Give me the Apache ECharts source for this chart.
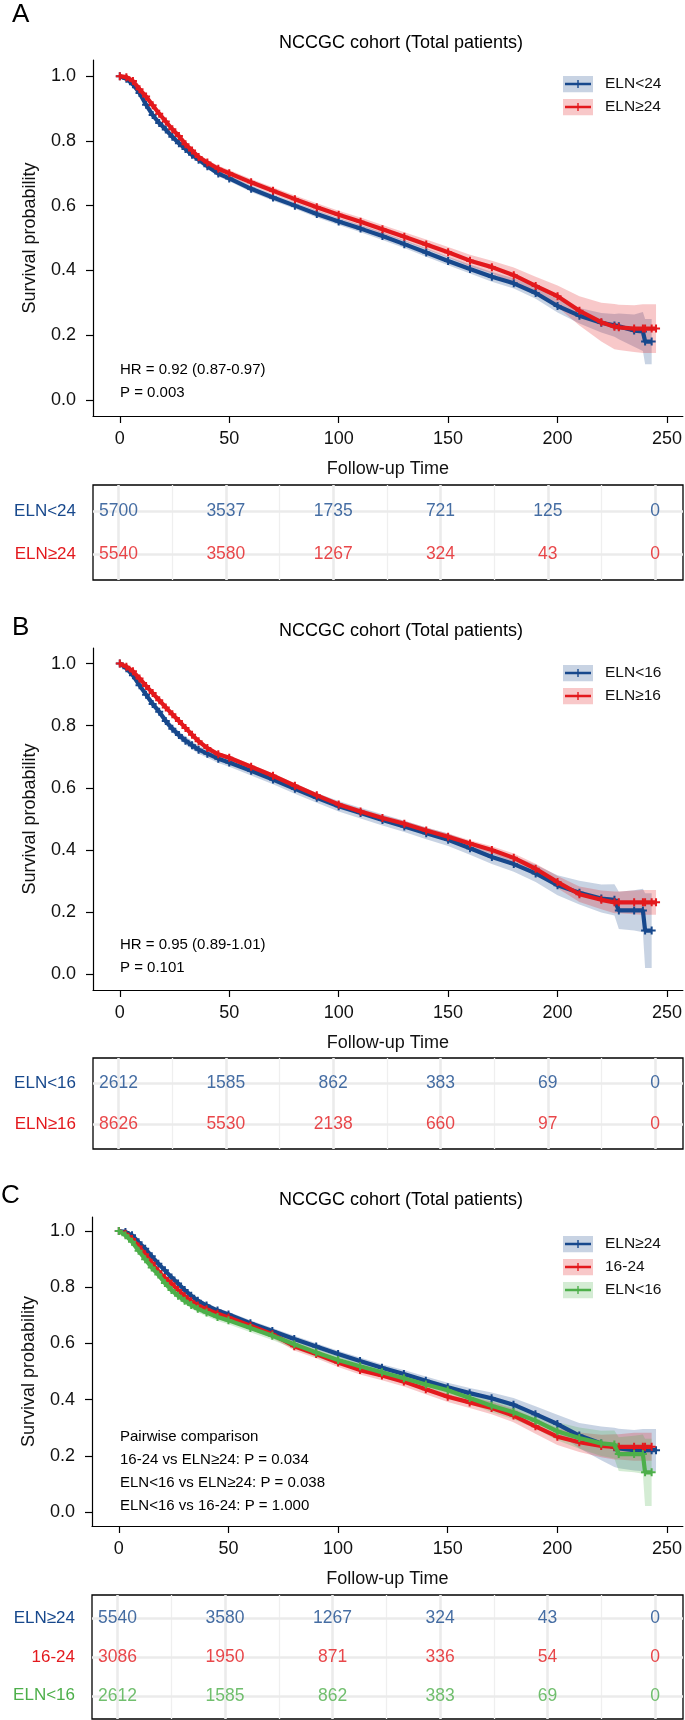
<!DOCTYPE html>
<html>
<head>
<meta charset="utf-8">
<script src="https://cdn.jsdelivr.net/npm/echarts@6/dist/echarts.min.js"></script>
<style>
html,body{margin:0;padding:0;background:#fff;}
#chart{width:685px;height:1720px;}
</style>
</head>
<body>
<div id="chart"></div>
<script>
// ---------- DATA ----------
const months = [0,3,6,9,12,15,18,21,24,27,30,33,36,40,45,50,60,70,80,90,100,110,120,130,140,150,160,170,180,190,200,210,220,226,228,235,239,240,243,245];
const xTicks = [0,50,100,150,200,250];
const xMinorTicks = [25,75,125,175,225];
const yTicks = [0,0.2,0.4,0.6,0.8,1.0];

// Panel A
const survA_lt24 = [1.0,0.992,0.975,0.948,0.912,0.88,0.855,0.835,0.813,0.793,0.775,0.757,0.742,0.722,0.699,0.684,0.652,0.625,0.60,0.574,0.551,0.529,0.506,0.481,0.455,0.429,0.404,0.38,0.36,0.33,0.29,0.26,0.238,0.23,0.227,0.214,0.211,0.18,0.18,null];
const ciA_lt24   = [0,0.004,0.005,0.006,0.007,0.007,0.007,0.008,0.008,0.008,0.008,0.008,0.009,0.009,0.009,0.009,0.01,0.01,0.01,0.011,0.011,0.011,0.012,0.012,0.013,0.013,0.014,0.015,0.016,0.018,0.02,0.024,0.03,0.035,0.04,0.05,0.06,0.07,0.07,null];
const survA_ge24 = [1.0,0.997,0.985,0.96,0.937,0.91,0.884,0.86,0.836,0.815,0.79,0.77,0.75,0.733,0.714,0.70,0.672,0.646,0.62,0.595,0.572,0.55,0.527,0.504,0.48,0.456,0.43,0.41,0.385,0.352,0.32,0.275,0.24,0.226,0.224,0.22,0.22,0.22,0.22,0.22];
const ciA_ge24   = [0,0.004,0.005,0.006,0.007,0.007,0.007,0.008,0.008,0.008,0.008,0.008,0.009,0.009,0.009,0.01,0.01,0.011,0.011,0.012,0.012,0.013,0.013,0.014,0.015,0.016,0.018,0.02,0.024,0.028,0.033,0.045,0.06,0.07,0.07,0.072,0.075,0.075,0.075,0.075];
const riskA_lt24 = [5700,3537,1735,721,125,0];
const riskA_ge24 = [5540,3580,1267,324,43,0];

// Panel B
const survB_lt16 = [1.0,0.985,0.962,0.93,0.9,0.87,0.845,0.815,0.79,0.77,0.752,0.737,0.723,0.71,0.694,0.682,0.655,0.627,0.597,0.568,0.541,0.519,0.497,0.476,0.454,0.433,0.406,0.378,0.355,0.325,0.287,0.263,0.244,0.24,0.206,0.206,0.206,0.141,0.141,null];
const ciB_lt16   = [0,0.006,0.008,0.009,0.01,0.011,0.011,0.012,0.012,0.012,0.013,0.013,0.013,0.013,0.014,0.014,0.015,0.015,0.016,0.016,0.017,0.017,0.018,0.018,0.019,0.02,0.021,0.023,0.025,0.028,0.032,0.038,0.045,0.05,0.06,0.065,0.07,0.12,0.12,null];
const survB_ge16 = [1.0,0.99,0.975,0.952,0.928,0.905,0.882,0.859,0.837,0.815,0.793,0.771,0.75,0.728,0.708,0.697,0.668,0.639,0.607,0.576,0.547,0.524,0.503,0.485,0.463,0.443,0.421,0.40,0.375,0.34,0.297,0.258,0.24,0.232,0.232,0.232,0.232,0.232,0.232,0.232];
const ciB_ge16   = [0,0.003,0.004,0.005,0.005,0.005,0.006,0.006,0.006,0.006,0.006,0.006,0.006,0.007,0.007,0.007,0.007,0.007,0.008,0.008,0.008,0.009,0.009,0.009,0.01,0.01,0.011,0.012,0.014,0.016,0.02,0.025,0.03,0.035,0.035,0.038,0.04,0.04,0.04,0.04];
const riskB_lt16 = [2612,1585,862,383,69,0];
const riskB_ge16 = [8626,5530,2138,660,97,0];

// Panel C
const survC_ge24 = [1.0,0.997,0.985,0.96,0.937,0.91,0.884,0.86,0.835,0.813,0.79,0.77,0.752,0.735,0.717,0.703,0.672,0.644,0.616,0.589,0.562,0.537,0.513,0.491,0.467,0.444,0.423,0.405,0.382,0.348,0.313,0.272,0.244,0.23,0.226,0.22,0.22,0.22,0.22,0.22];
const ciC_ge24   = [0,0.004,0.005,0.006,0.007,0.007,0.007,0.008,0.008,0.008,0.008,0.008,0.009,0.009,0.009,0.01,0.01,0.011,0.011,0.012,0.012,0.013,0.013,0.014,0.015,0.016,0.018,0.02,0.024,0.028,0.033,0.045,0.06,0.07,0.07,0.072,0.075,0.075,0.075,0.075];
const survC_16to24 = [1.0,0.99,0.972,0.945,0.917,0.887,0.857,0.833,0.813,0.79,0.768,0.75,0.735,0.722,0.706,0.692,0.663,0.633,0.59,0.562,0.532,0.505,0.486,0.464,0.437,0.41,0.39,0.37,0.343,0.305,0.268,0.248,0.235,0.232,0.232,0.232,0.232,0.232,0.232,null];
const ciC_16to24   = [0,0.005,0.007,0.008,0.009,0.01,0.01,0.011,0.011,0.011,0.012,0.012,0.012,0.012,0.013,0.013,0.014,0.014,0.015,0.015,0.016,0.016,0.017,0.017,0.018,0.019,0.02,0.022,0.024,0.027,0.03,0.035,0.04,0.045,0.045,0.05,0.05,0.05,0.05,null];
const survC_lt16 = [1.0,0.985,0.962,0.93,0.9,0.87,0.845,0.815,0.79,0.77,0.752,0.737,0.723,0.71,0.694,0.682,0.655,0.627,0.597,0.568,0.541,0.519,0.497,0.476,0.454,0.433,0.406,0.378,0.355,0.325,0.287,0.263,0.244,0.24,0.206,0.206,0.206,0.141,0.141,null];
const ciC_lt16   = [0,0.006,0.008,0.009,0.01,0.011,0.011,0.012,0.012,0.012,0.013,0.013,0.013,0.013,0.014,0.014,0.015,0.015,0.016,0.016,0.017,0.017,0.018,0.018,0.019,0.02,0.021,0.023,0.025,0.028,0.032,0.038,0.045,0.05,0.06,0.065,0.07,0.12,0.12,null];
const riskC_ge24 = [5540,3580,1267,324,43,0];
const riskC_16to24 = [3086,1950,871,336,54,0];
const riskC_lt16 = [2612,1585,862,383,69,0];

// ---------- STYLE ----------
const BLUE = '#17488C', RED = '#E3191D', GREEN = '#4DAF4A';
const FONT = "'Liberation Sans', Arial, Helvetica, sans-serif";
const TXT = '#111';

function rgba(hex, a){
  const n = parseInt(hex.slice(1),16);
  return 'rgba(' + ((n>>16)&255) + ',' + ((n>>8)&255) + ',' + (n&255) + ',' + a + ')';
}
function legendIcon(c){
  const svg = '<svg xmlns="http://www.w3.org/2000/svg" width="60" height="34" viewBox="0 0 30 17">' +
    '<rect x="0" y="0" width="30" height="17" fill="' + c + '" fill-opacity="0.24"/>' +
    '<line x1="2" y1="8.5" x2="28" y2="8.5" stroke="' + c + '" stroke-width="2.4"/>' +
    '<line x1="15" y1="4.5" x2="15" y2="12.5" stroke="' + c + '" stroke-width="1.4"/>' +
    '</svg>';
  return 'image://data:image/svg+xml;charset=utf-8,' + encodeURIComponent(svg);
}

const PLUS = 'path://M3,0H5V3H8V5H5V8H3V5H0V3H3Z';

// panel layout
const panels = [
  {top:60, height:356, left:93, tTop:485, tHeight:95, letter:'A', letterX:12, letterY:15, titleY:43, legTop:70.5,
   curves:[{name:'ELN<24', s:survA_lt24, ci:ciA_lt24, c:BLUE},{name:'ELN\u226524', s:survA_ge24, ci:ciA_ge24, c:RED}],
   rows:[{name:'ELN<24', r:riskA_lt24, c:BLUE},{name:'ELN\u226524', r:riskA_ge24, c:RED}],
   notes:['HR = 0.92 (0.87-0.97)','P = 0.003'], noteY:[370,393]},
  {top:648, height:342, left:93, tTop:1058, tHeight:91, letter:'B', letterX:12, letterY:628, titleY:631, legTop:659.5,
   curves:[{name:'ELN<16', s:survB_lt16, ci:ciB_lt16, c:BLUE},{name:'ELN\u226516', s:survB_ge16, ci:ciB_ge16, c:RED}],
   rows:[{name:'ELN<16', r:riskB_lt16, c:BLUE},{name:'ELN\u226516', r:riskB_ge16, c:RED}],
   notes:['HR = 0.95 (0.89-1.01)','P = 0.101'], noteY:[945,968]},
  {top:1217, height:309, left:92, tTop:1595, tHeight:124, letter:'C', letterX:1, letterY:1196, titleY:1200, legTop:1230.5,
   curves:[{name:'ELN\u226524', s:survC_ge24, ci:ciC_ge24, c:BLUE},{name:'16-24', s:survC_16to24, ci:ciC_16to24, c:RED},{name:'ELN<16', s:survC_lt16, ci:ciC_lt16, c:GREEN}],
   rows:[{name:'ELN\u226524', r:riskC_ge24, c:BLUE},{name:'16-24', r:riskC_16to24, c:RED},{name:'ELN<16', r:riskC_lt16, c:GREEN}],
   notes:['Pairwise comparison','16-24 vs ELN\u226524: P = 0.034','ELN<16 vs ELN\u226524: P = 0.038','ELN<16 vs 16-24: P = 1.000'], noteY:[1437,1460,1483,1506]}
];

const grid = [], xAxis = [], yAxis = [], series = [], legend = [], graphic = [];

panels.forEach((p, pi) => {
  const gi = grid.length;
  // survival plot grid
  grid.push({left:p.left, width:683 - p.left, top:p.top, height:p.height, containLabel:false});
  xAxis.push({type:'value', gridIndex:gi, min:-12.25, max:257.25,
    axisLine:{show:true, onZero:false, lineStyle:{color:'#000', width:1.2}},
    axisTick:{show:true, customValues:xTicks, length:7, lineStyle:{color:'#000', width:1.2}},
    axisLabel:{customValues:xTicks, margin:14, fontSize:18, color:TXT, fontFamily:FONT},
    splitLine:{show:false},
    name:'Follow-up Time', nameLocation:'middle', nameGap:44,
    nameTextStyle:{fontSize:18, color:TXT, fontFamily:FONT}});
  yAxis.push({type:'value', gridIndex:gi, min:-0.05, max:1.05,
    axisLine:{show:true, onZero:false, lineStyle:{color:'#000', width:1.2}},
    axisTick:{show:true, customValues:yTicks, length:7, lineStyle:{color:'#000', width:1.2}},
    axisLabel:{customValues:yTicks, margin:17, fontSize:18, color:TXT, fontFamily:FONT, formatter:v=>v.toFixed(1)},
    splitLine:{show:false},
    name:'Survival probability', nameLocation:'middle', nameGap:54,
    nameTextStyle:{fontSize:18, color:TXT, fontFamily:FONT}});

  // bands
  p.curves.forEach(cv => {
    series.push({type:'custom', xAxisIndex:gi, yAxisIndex:gi, silent:true, z:1,
      data:[[0,0]], clip:true,
      renderItem:(params, api) => {
        const up = [], lo = [];
        months.forEach((t,i) => {
          if (cv.s[i] == null) return;
          up.push(api.coord([t, cv.s[i] + cv.ci[i]]));
          lo.push(api.coord([t, cv.s[i] - cv.ci[i]]));
        });
        return {type:'polygon', shape:{points: up.concat(lo.reverse())},
                style:{fill: rgba(cv.c, 0.24)}};
      }});
  });
  // curves
  p.curves.forEach((cv, ci) => {
    const data = [];
    months.forEach((t,i) => { if (cv.s[i] != null) data.push([t, cv.s[i]]); });
    series.push({type:'line', name:cv.name, xAxisIndex:gi, yAxisIndex:gi, data:data,
      color:cv.c, z:3 + ci, smooth:false, symbol:PLUS, symbolSize:8, showSymbol:true,
      itemStyle:{color:cv.c}, lineStyle:{color:cv.c, width:4.2}, silent:true, animation:false});
  });

  legend.push({orient:'vertical', left:558, top:p.legTop, itemWidth:30, itemHeight:17, itemGap:6,
    selectedMode:false,
    textStyle:{fontSize:15.5, color:TXT, fontFamily:FONT, padding:[0,0,0,7]},
    data:p.curves.map(cv => ({name:cv.name, icon:legendIcon(cv.c)}))});

  // risk table grid
  const ti = grid.length;
  const nRows = p.rows.length;
  grid.push({left:p.left, width:683 - p.left, top:p.tTop, height:p.tHeight, show:true,
    borderColor:'#000', borderWidth:1.3, backgroundColor:'transparent', containLabel:false});
  xAxis.push({type:'value', gridIndex:ti, min:-11.9, max:263,
    axisLine:{show:false}, axisTick:{show:false}, axisLabel:{show:false}, splitLine:{show:false}});
  yAxis.push({type:'value', gridIndex:ti, min:0.4, max:nRows + 0.6, inverse:true,
    axisLine:{show:false}, axisTick:{show:false}, splitLine:{show:false},
    axisLabel:{customValues:p.rows.map((r,i)=>i+1), margin:17, fontSize:17, fontFamily:FONT,
      formatter:v => p.rows[Math.round(v)-1].name,
      color:(v) => p.rows[Math.round(v)-1].c}});
  // table grid lines
  series.push({type:'line', xAxisIndex:ti, yAxisIndex:ti, data:[], silent:true, z:1,
    markLine:{silent:true, symbol:'none', label:{show:false}, animation:false,
      data: xTicks.map(v => ({xAxis:v, lineStyle:{color:'#EBEBEB', width:2.6, type:'solid'}}))
        .concat(xMinorTicks.map(v => ({xAxis:v, lineStyle:{color:'#EFEFEF', width:1.3, type:'solid'}})))
        .concat(p.rows.map((r,i) => ({yAxis:i+1, lineStyle:{color:'#EBEBEB', width:2.6, type:'solid'}})))}});
  p.rows.forEach((row, ri) => {
    series.push({type:'scatter', xAxisIndex:ti, yAxisIndex:ti, silent:true, z:5,
      symbolSize:1, itemStyle:{color:'rgba(0,0,0,0)'},
      data: row.r.map((n, k) => [xTicks[k], ri + 1, n]),
      label:{show:true, position:'inside', formatter:d => String(d.value[2]),
        color:row.c, fontSize:17.5, fontFamily:FONT}});
  });

  // texts
  graphic.push({type:'text', x:p.letterX, y:p.letterY, silent:true,
    style:{text:p.letter, fontSize:26, fontFamily:FONT, fill:'#000', textAlign:'left', textVerticalAlign:'middle'}});
  graphic.push({type:'text', x:401, y:p.titleY, silent:true,
    style:{text:'NCCGC cohort (Total patients)', fontSize:18, fontFamily:FONT, fill:'#000', textAlign:'center', textVerticalAlign:'middle'}});
  p.notes.forEach((nt, k) => {
    graphic.push({type:'text', x:120, y:p.noteY[k], silent:true,
      style:{text:nt, fontSize:15, fontFamily:FONT, fill:'#000', textAlign:'left', textVerticalAlign:'middle'}});
  });
});

const chart = echarts.init(document.getElementById('chart'), null, {renderer:'canvas'});
chart.setOption({
  backgroundColor:'#fff',
  animation:false,
  textStyle:{fontFamily:FONT},
  grid, xAxis, yAxis, series, legend, graphic
});
</script>
</body>
</html>
